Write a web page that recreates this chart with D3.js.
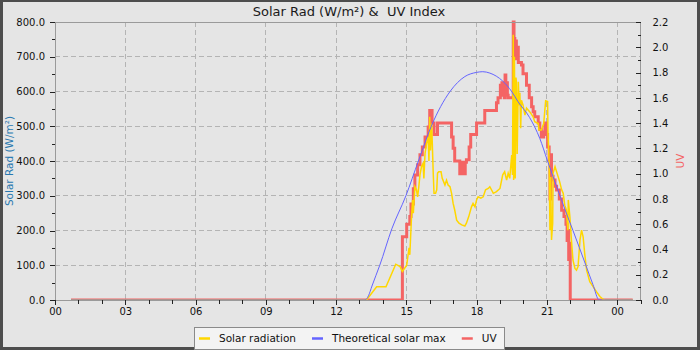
<!DOCTYPE html>
<html>
<head>
<meta charset="utf-8">
<script src="https://cdn.jsdelivr.net/npm/d3@7"></script>
<style>
  html, body { margin: 0; padding: 0; background: #4d4d4d; }
  svg { display: block; font-family: "DejaVu Sans", sans-serif; }
</style>
</head>
<body>
<svg id="chart" width="700" height="350"></svg>
<script>
// ---- data ---------------------------------------------------------------
// times are "HH:MM" counted from midnight of the first day (24:40 = 00:40 next day)
const hourTicks = [0, 3, 6, 9, 12, 15, 18, 21, 24];
const hourTickLabels = ["00", "03", "06", "09", "12", "15", "18", "21", "00"];
const radTicks = [0, 100, 200, 300, 400, 500, 600, 700, 800];
const uvTicks = [0, 0.2, 0.4, 0.6, 0.8, 1.0, 1.2, 1.4, 1.6, 1.8, 2.0, 2.2];
const seriesNames = ["Solar radiation", "Theoretical solar max", "UV"];

const solarTimes = ["00:41","13:18","13:44","14:08","14:33","14:44","14:50","15:01","15:07","15:09",
  "15:13","15:16","15:18","15:22","15:26","15:29","15:32","15:35","15:39","15:43",
  "15:45","15:48","15:52","15:56","15:58","16:00","16:02","16:05","16:09","16:11",
  "16:15","16:18","16:20","16:23","16:29","16:32","16:34","16:39","16:43","16:47",
  "16:52","16:56","17:00","17:04","17:09","17:15","17:22","17:30","17:34","17:40",
  "17:47","17:51","17:56","18:00","18:04","18:11","18:17","18:23","18:30","18:34",
  "18:43","18:51","19:00","19:07","19:12","19:17","19:21","19:25","19:30","19:32",
  "19:34","19:35","19:37","19:39","19:41","19:42","19:44","19:47","19:49","19:51",
  "19:53","19:55","19:59","20:04","20:08","20:16","20:25","20:29","20:38","20:40",
  "20:46","20:52","20:57","21:02","21:03","21:06","21:08","21:10","21:12","21:15",
  "21:16","21:21","21:25","21:29","21:33","21:38","21:42","21:46","21:50","21:54",
  "21:55","21:59","22:03","22:07","22:12","22:16","22:20","22:25","22:29","22:33",
  "22:37","22:42","22:50","22:59","23:07","23:16","23:24","23:29","24:40"];
const solarValues = [0, 0, 38, 38, 103, 96, 82, 100, 150, 130,
  230, 288, 250, 326, 317, 297, 326, 360, 384, 393,
  350, 422, 451, 470, 400, 527, 430, 508, 365, 307,
  307, 317, 365, 369, 369, 350, 345, 331, 345, 331,
  326, 307, 278, 259, 230, 221, 216, 213, 221, 240,
  268, 278, 268, 288, 297, 293, 297, 317, 321, 326,
  307, 312, 321, 360, 369, 345, 365, 350, 417, 360,
  763, 345, 700, 350, 640, 628, 420, 628, 560, 596,
  494, 575, 561, 532, 552, 542, 527, 513, 508, 489,
  489, 508, 573, 571, 479, 394, 201, 354, 173, 221,
  365, 384, 369, 355, 340, 317, 307, 273, 259, 201,
  288, 240, 173, 115, 91, 86, 96, 173, 201, 182,
  134, 86, 53, 38, 24, 10, 2, 0, 0];

const theoTimes = ["00:41","13:14","13:23","13:32","13:42","13:52","14:23","14:59","15:31","16:04",
  "16:52","17:30","18:00","18:16","18:34","19:07","19:30","19:46","20:16","20:42","21:01",
  "21:16","21:33","21:50","22:07","22:40","22:58","23:14","24:40"];
const theoValues = [0, 0, 12, 40, 70, 100, 205, 300, 400, 500,
  600, 643, 655, 657, 653, 630, 600, 571, 525, 465, 403,
  355, 302, 250, 200, 100, 45, 0, 0];

const uvTimes = ["00:41","14:50","15:01","15:09","15:12","15:18","15:22","15:29","15:35","15:41",
  "15:48","15:56","16:00","16:06","16:11","16:20","16:56","17:00","17:04","17:17",
  "17:19","17:21","17:23","17:25","17:27","17:29","17:31","17:34","17:41","17:45",
  "18:00","18:21","18:51","18:55","19:01","19:03","19:05","19:07","19:09","19:11",
  "19:13","19:15","19:17","19:19","19:21","19:34","19:36","19:38","19:40","19:42",
  "19:44","19:47","19:55","19:59","20:08","20:15","20:21","20:25","20:29","20:38",
  "20:42","20:46","20:48","20:50","20:52","20:55","20:59","21:02","21:06","21:08",
  "21:10","21:12","21:16","21:21","21:25","21:32","21:38","21:44","21:49","21:52",
  "21:55","21:56","21:58","22:00","24:40"];
const uvValues = [0, 0.5, 0.6, 0.66, 0.76, 0.88, 0.99, 1.07, 1.15, 1.21,
  1.29, 1.37, 1.5, 1.4, 1.31, 1.4, 1.29, 1.2, 1.1, 1.0,
  1.09, 1.0, 1.09, 1.0, 1.09, 1.0, 1.09, 1.11, 1.21, 1.31,
  1.4, 1.5, 1.56, 1.6, 1.7, 1.62, 1.72, 1.62, 1.7, 1.6,
  1.78, 1.64, 1.72, 1.62, 1.6, 2.2, 2.07, 1.92, 2.05, 1.91,
  2.0, 1.88, 1.86, 1.79, 1.7, 1.6, 1.53, 1.49, 1.45, 1.4,
  1.35, 1.29, 1.33, 1.29, 1.33, 1.4, 1.31, 1.21, 1.11, 0.8,
  1.15, 0.98, 0.95, 0.9, 0.87, 0.8, 0.71, 0.66, 0.6, 0.47,
  0.55, 0.32, 0.45, 0, 0];

// ---- helpers ------------------------------------------------------------
const toHours = t => { const [h, m] = t.split(":").map(Number); return h + m / 60; };
const zip = (ts, vs) => ts.map((t, i) => ({ t: toHours(t), v: vs[i] }));

const solar = zip(solarTimes, solarValues);
const theo = zip(theoTimes, theoValues);
const uv = zip(uvTimes, uvValues);

// ---- layout -------------------------------------------------------------
const W = 700, H = 350;
const plot = { left: 55, right: 640.5, top: 22, bottom: 300 };
const colors = { solar: "#ffd700", theo: "#6464ff", uv: "#f46464" };

const svg = d3.select("#chart");

// frame and background
svg.append("rect").attr("width", W).attr("height", H).attr("fill", "#4d4d4d");
svg.append("rect").attr("x", 3).attr("y", 2).attr("width", W - 6).attr("height", H - 5)
  .attr("fill", "#e5e5e5");

const x = d3.scaleLinear().domain([0, 25]).range([plot.left, plot.right]);
const yRad = d3.scaleLinear().domain([0, 800]).range([plot.bottom, plot.top]);
const yUv = d3.scaleLinear().domain([0, 2.2]).range([plot.bottom, plot.top]);

// grid
const grid = svg.append("g").attr("stroke", "#b4b4b4").attr("stroke-dasharray", "5,3")
  .attr("shape-rendering", "crispEdges");
grid.selectAll(".h").data(radTicks.filter(d => d > 0 && d < 800)).join("line")
  .attr("x1", plot.left).attr("x2", plot.right)
  .attr("y1", d => yRad(d)).attr("y2", d => yRad(d));
grid.selectAll(".v").data(hourTicks.filter(d => d > 0)).join("line")
  .attr("x1", d => x(d)).attr("x2", d => x(d))
  .attr("y1", plot.top).attr("y2", plot.bottom);

// series
svg.append("clipPath").attr("id", "plotclip").append("rect")
  .attr("x", plot.left).attr("y", plot.top - 2)
  .attr("width", plot.right - plot.left).attr("height", plot.bottom - plot.top + 2);

const series = svg.append("g").attr("clip-path", "url(#plotclip)");

series.append("path").datum(uv)
  .attr("fill", "none").attr("stroke", colors.uv).attr("stroke-width", 3)
  .attr("stroke-linejoin", "miter")
  .attr("d", d3.line().x(d => x(d.t)).y(d => yUv(d.v)).curve(d3.curveStepAfter));

series.append("path").datum(solar)
  .attr("fill", "none").attr("stroke", colors.solar).attr("stroke-width", 1.5)
  .attr("d", d3.line().x(d => x(d.t)).y(d => yRad(d.v)));

series.append("path").datum(theo)
  .attr("fill", "none").attr("stroke", colors.theo).attr("stroke-width", 1)
  .attr("d", d3.line().x(d => x(d.t)).y(d => yRad(d.v)).curve(d3.curveMonotoneX));

// plot border
svg.append("rect").attr("x", plot.left).attr("y", plot.top)
  .attr("width", plot.right - plot.left).attr("height", plot.bottom - plot.top)
  .attr("fill", "none").attr("stroke", "#9a9a9a").attr("shape-rendering", "crispEdges");

// axes
function styleAxis(g) {
  g.select(".domain").remove();
  g.selectAll(".tick line").attr("stroke", "#222").attr("shape-rendering", "crispEdges");
  g.selectAll(".tick text").attr("fill", "#111").style("font-size", "10px")
    .style("font-family", "'DejaVu Sans', sans-serif");
}

const fmt1 = d3.format(".1f");

svg.append("g").attr("transform", `translate(${plot.left},0)`)
  .call(d3.axisLeft(yRad).tickValues(radTicks).tickFormat(fmt1).tickSize(5).tickPadding(5))
  .call(styleAxis);
svg.append("g").attr("transform", `translate(${plot.left},0)`)
  .call(d3.axisLeft(yRad).tickValues(d3.range(50, 800, 100)).tickFormat("").tickSize(3))
  .call(styleAxis);

svg.append("g").attr("transform", `translate(${plot.right},0)`)
  .call(d3.axisRight(yUv).tickValues(uvTicks).tickFormat(fmt1).tickSizeInner(-5).tickPadding(12))
  .call(styleAxis);
svg.append("g").attr("transform", `translate(${plot.right},0)`)
  .call(d3.axisRight(yUv).tickValues(d3.range(0.1, 2.2, 0.2)).tickFormat("").tickSizeInner(-3))
  .call(styleAxis);

svg.append("g").attr("transform", `translate(0,${plot.bottom})`)
  .call(d3.axisBottom(x).tickValues(hourTicks).tickFormat((d, i) => hourTickLabels[i])
    .tickSize(5).tickPadding(3))
  .call(styleAxis);
svg.append("g").attr("transform", `translate(0,${plot.bottom})`)
  .call(d3.axisBottom(x).tickValues(d3.range(1, 26).filter(h => h % 3 !== 0)).tickFormat("").tickSize(4))
  .call(styleAxis);

// titles
svg.append("text").attr("x", 349).attr("y", 15.5).attr("text-anchor", "middle")
  .style("font-size", "13px").style("white-space", "pre").attr("fill", "#1a1a1a")
  .text("Solar Rad (W/m\u00b2) &  UV Index");

svg.append("text").attr("transform", `translate(13,${(plot.top + plot.bottom) / 2}) rotate(-90)`)
  .attr("text-anchor", "middle").style("font-size", "10.5px").attr("fill", "#2878b0")
  .text("Solar Rad (W/m\u00b2)");

svg.append("text").attr("transform", `translate(684,${(plot.top + plot.bottom) / 2}) rotate(-90)`)
  .attr("text-anchor", "middle").style("font-size", "10.5px").attr("fill", colors.uv)
  .text("UV");

// legend
const legendColors = [colors.solar, colors.theo, colors.uv];
const legend = svg.append("g");
const legendBox = legend.append("rect").attr("y", 327).attr("height", 22)
  .attr("fill", "#f3f3f3").attr("stroke", "#8a8a8a").attr("shape-rendering", "crispEdges");
let cx = 199;
seriesNames.forEach((name, i) => {
  legend.append("line").attr("x1", cx).attr("x2", cx + 11).attr("y1", 338.5).attr("y2", 338.5)
    .attr("stroke", legendColors[i]).attr("stroke-width", 2.5);
  const t = legend.append("text").attr("x", cx + 20).attr("y", 342)
    .style("font-size", "10.5px").attr("fill", "#111").text(name);
  cx += 20 + t.node().getComputedTextLength() + 16;
});
legendBox.attr("x", 194).attr("width", cx - 16 + 8 - 194);
</script>
</body>
</html>
